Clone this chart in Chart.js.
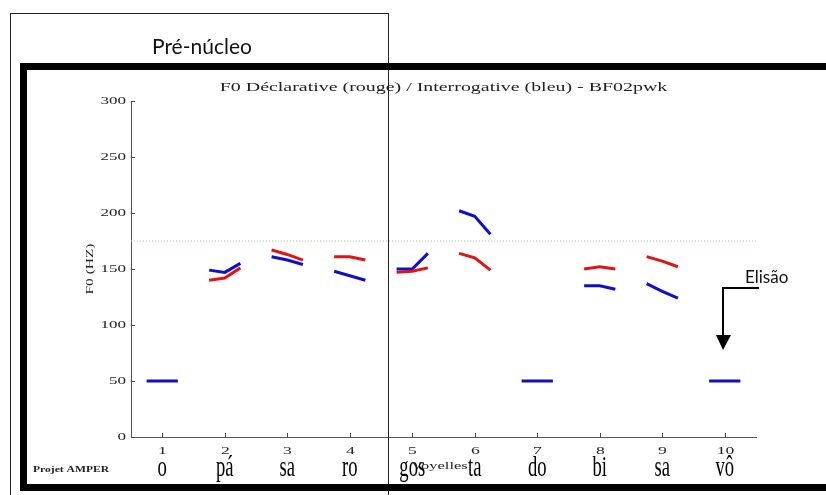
<!DOCTYPE html>
<html>
<head>
<meta charset="utf-8">
<script src="https://cdn.jsdelivr.net/npm/chart.js@4.4.0/dist/chart.umd.min.js"></script>
<style>
  body { margin: 0; background: #fff; width: 826px; height: 495px; overflow: hidden; position: relative; }
  #c { position: absolute; left: 0; top: 0; }
  .thin { position: absolute; left: 10px; top: 13px; width: 379px; height: 490px; box-sizing: border-box;
          border: 1px solid #222; border-bottom: none; }
  .thick { position: absolute; left: 20px; top: 63px; width: 830px; height: 428px; box-sizing: border-box;
           border: 7px solid #000; }
  .note { position: absolute; font-family: Lato, "Open Sans", sans-serif; color: #111; white-space: nowrap; }
  svg { position: absolute; left: 0; top: 0; }
</style>
</head>
<body>
<canvas id="c" width="826" height="495"></canvas>
<div class="thin"></div>
<div class="thick"></div>
<div class="note" style="left:152px; top:33px; font-size:21px;">Pré-núcleo</div>
<div class="note" style="left:745px; top:266px; font-size:17px;">Elisão</div>
<svg width="826" height="495">
  <polyline points="759,288 723,288 723,336" fill="none" stroke="#000" stroke-width="2"/>
  <polygon points="716,335 731,335 723,350" fill="#000"/>
</svg>
<script>
// valeurs (Hz), 3 points par voyelle
const syllables = ["o", "pá", "sa", "ro", "gos", "ta", "do", "bi", "sa", "vô"];
const vowels = [1, 2, 3, 4, 5, 6, 7, 8, 9, 10];
const yTicks = [0, 50, 100, 150, 200, 250, 300];
const declarative = [
  null,
  [140, 142, 151],
  [167, 163, 158],
  [161, 161, 158],
  [147, 148, 151],
  [164, 160, 149],
  null,
  [150, 152, 150],
  [161, 157, 152],
  null
];
const interrogative = [
  [50, 50, 50],
  [149, 147, 155],
  [161, 158, 154],
  [148, 144, 140],
  [150, 150, 164],
  [202, 197, 181],
  [50, 50, 50],
  [135, 135, 132],
  [137, 130, 124],
  [50, 50, 50]
];
const refLine = 175;

function toPoints(series) {
  var pts = [];
  series.forEach(function (seg, i) {
    if (!seg) return;
    seg.forEach(function (v, k) {
      pts.push({ x: vowels[i] + (k - 1) * 0.25, y: v });
    });
    pts.push({ x: vowels[i] + 0.5, y: null }); // coupure entre voyelles
  });
  return pts;
}

// texte étiré horizontalement (comme la figure Matlab)
function stretchText(ctx, txt, x, y, font, sx, align) {
  ctx.save();
  ctx.font = font;
  ctx.textBaseline = "middle";
  ctx.textAlign = "left";
  var w = ctx.measureText(txt).width * sx;
  var x0 = align === "center" ? x - w / 2 : align === "right" ? x - w : x;
  ctx.translate(x0, y);
  ctx.scale(sx, 1);
  ctx.fillText(txt, 0, 0);
  ctx.restore();
}

const matlabText = {
  id: "matlabText",
  afterDraw: function (chart) {
    var ctx = chart.ctx;
    var xs = chart.scales.x, ys = chart.scales.y;
    var area = chart.chartArea;
    ctx.save();
    ctx.strokeStyle = "#444";
    ctx.lineWidth = 1;
    ctx.fillStyle = "#222";
    // graduations vers l'intérieur
    yTicks.forEach(function (t) {
      var py = Math.round(ys.getPixelForValue(t)) + 0.5;
      ctx.beginPath(); ctx.moveTo(area.left, py); ctx.lineTo(area.left + 4, py); ctx.stroke();
      stretchText(ctx, String(t), area.left - 5, py, '11px "Liberation Serif"', 1.55, "right");
    });
    vowels.forEach(function (v, i) {
      var px = Math.round(xs.getPixelForValue(v)) + 0.5;
      ctx.beginPath(); ctx.moveTo(px, area.bottom); ctx.lineTo(px, area.bottom - 4); ctx.stroke();
      stretchText(ctx, String(v), px, area.bottom + 14, '11px "Liberation Serif"', 1.6, "center");
    });
    ctx.fillStyle = "#000";
    vowels.forEach(function (v, i) {
      var px = xs.getPixelForValue(v);
      stretchText(ctx, syllables[i], px, area.bottom + 31, '30px "Liberation Serif"', 0.62, "center");
    });
    ctx.fillStyle = "#222";
    stretchText(ctx, "Voyelles", (area.left + area.right) / 2 - 4, area.bottom + 29, '11px "Liberation Serif"', 1.5, "center");
    stretchText(ctx, "F0 Déclarative (rouge) / Interrogative (bleu) - BF02pwk", (area.left + area.right) / 2, area.top - 13,
      '12px "Liberation Serif"', 1.66, "center");
    stretchText(ctx, "Projet AMPER", 33, area.bottom + 33, 'bold 8px "Liberation Serif"', 1.45, "left");
    // titre de l'axe y
    ctx.save();
    ctx.translate(area.left - 41, (area.top + area.bottom) / 2);
    ctx.rotate(-Math.PI / 2);
    stretchText(ctx, "F0 (HZ)", 0, 0, '11px "Liberation Serif"', 1.4, "center");
    ctx.restore();
    ctx.restore();
  }
};

var ctx = document.getElementById("c").getContext("2d");
var chart = new Chart(ctx, {
  type: "line",
  data: {
    datasets: [
      {
        label: "Déclarative",
        data: toPoints(declarative),
        borderColor: "rgb(225, 20, 20)",
        borderWidth: 3,
        pointRadius: 0,
        spanGaps: false,
        tension: 0
      },
      {
        label: "Interrogative",
        data: toPoints(interrogative),
        borderColor: "rgb(15, 15, 200)",
        borderWidth: 3,
        pointRadius: 0,
        spanGaps: false,
        tension: 0
      },
      {
        label: "Référence",
        data: [{ x: 0.5, y: refLine }, { x: 10.5, y: refLine }],
        borderColor: "rgb(140, 205, 140)",
        borderWidth: 1,
        borderDash: [1, 2],
        pointRadius: 0
      }
    ]
  },
  options: {
    responsive: false,
    animation: false,
    devicePixelRatio: 1,
    layout: { padding: { left: 123, right: 70, top: 101, bottom: 50 } },
    plugins: { legend: { display: false }, tooltip: { enabled: false }, title: { display: false } },
    scales: {
      x: {
        type: "linear", min: 0.5, max: 10.5,
        grid: { display: false },
        ticks: { display: false },
        border: { display: true, color: "#555", width: 1 }
      },
      y: {
        type: "linear", min: 0, max: 300,
        grid: { display: false },
        ticks: { display: false },
        border: { display: true, color: "#555", width: 1 }
      }
    }
  },
  plugins: [matlabText]
});
</script>
</body>
</html>
